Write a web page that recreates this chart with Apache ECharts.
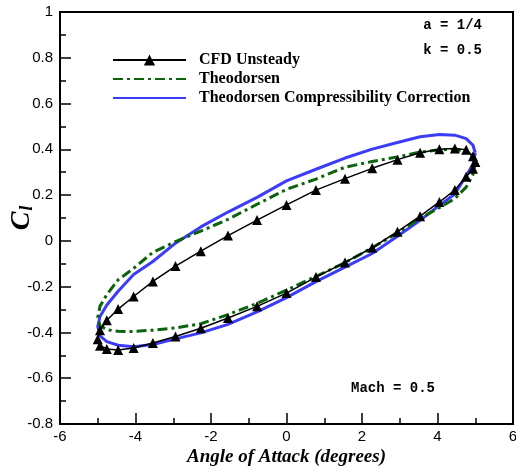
<!DOCTYPE html>
<html>
<head>
<meta charset="utf-8">
<script src="https://cdn.jsdelivr.net/npm/echarts@6/dist/echarts.min.js"></script>
<style>
  html, body { margin: 0; padding: 0; background: #fff; }
  #chart { width: 516px; height: 470px; }
</style>
</head>
<body>
<div id="chart"></div>
<script>
// Angle of attack samples (degrees) around one pitching cycle: upper branch from +5 to -5, then back.
const alphaDeg = [5.00, 4.94, 4.76, 4.46, 4.05, 3.54, 2.94, 2.27, 1.55, 0.78, 0.00,
  -0.78, -1.55, -2.27, -2.94, -3.54, -4.05, -4.46, -4.76, -4.94, -5.00,
  -4.94, -4.76, -4.46, -4.05, -3.54, -2.94, -2.27, -1.55, -0.78, 0.00,
  0.78, 1.55, 2.27, 2.94, 3.54, 4.05, 4.46, 4.76, 4.94, 5.00];

// Lift coefficient, CFD unsteady solution
const clCfd = [0.345, 0.37, 0.398, 0.404, 0.40, 0.385, 0.355, 0.317, 0.272, 0.222, 0.157,
  0.091, 0.023, -0.045, -0.11, -0.177, -0.243, -0.298, -0.347, -0.39, -0.43,
  -0.458, -0.472, -0.477, -0.468, -0.446, -0.418, -0.382, -0.337, -0.286, -0.228,
  -0.158, -0.094, -0.03, 0.04, 0.108, 0.17, 0.222, 0.28, 0.315, 0.345];

// Lift coefficient, Theodorsen (incompressible)
const clTheo = [0.34, 0.37, 0.39, 0.40, 0.398, 0.388, 0.367, 0.347, 0.322, 0.27, 0.225,
  0.16, 0.094, 0.043, -0.003, -0.05, -0.12, -0.17, -0.235, -0.285, -0.335,
  -0.37, -0.388, -0.395, -0.396, -0.39, -0.38, -0.362, -0.322, -0.273, -0.215,
  -0.155, -0.095, -0.03, 0.035, 0.098, 0.145, 0.185, 0.235, 0.29, 0.34];

// Lift coefficient, Theodorsen with compressibility correction
const clComp = [0.385, 0.418, 0.447, 0.462, 0.465, 0.455, 0.43, 0.401, 0.362, 0.313, 0.262,
  0.19, 0.126, 0.061, -0.01, -0.09, -0.147, -0.22, -0.28, -0.33, -0.375,
  -0.415, -0.44, -0.456, -0.463, -0.453, -0.428, -0.402, -0.365, -0.31, -0.248,
  -0.178, -0.115, -0.055, 0.02, 0.09, 0.155, 0.205, 0.285, 0.335, 0.385];

const seriesNames = ['CFD Unsteady', 'Theodorsen', 'Theodorsen Compressibility Correction'];
const xTicks = [-6, -4, -2, 0, 2, 4, 6];
const yTicks = [-0.8, -0.6, -0.4, -0.2, 0, 0.2, 0.4, 0.6, 0.8, 1];
const notes = ['a = 1/4', 'k = 0.5', 'Mach = 0.5'];

const pair = (xs, ys) => xs.map((x, i) => [x, ys[i]]);

const chart = echarts.init(document.getElementById('chart'), null, { renderer: 'canvas' });

const axisCommon = {
  axisLine: { show: true, onZero: false, lineStyle: { color: '#000', width: 2 } },
  axisTick: { show: true, inside: true, length: 11, lineStyle: { color: '#000', width: 1.5 } },
  minorTick: { show: true, splitNumber: 2, length: 6, lineStyle: { color: '#000', width: 1.5 } },
  splitLine: { show: false },
  minorSplitLine: { show: false },
  axisLabel: { color: '#000', fontFamily: 'Liberation Sans', fontSize: 15 }
};

chart.setOption({
  animation: false,
  backgroundColor: '#fff',
  grid: {
    left: 60, right: 3, top: 12, bottom: 46, containLabel: false, outerBoundsMode: 'none',
    show: true, borderColor: '#000', borderWidth: 2, backgroundColor: 'transparent'
  },
  xAxis: Object.assign({}, axisCommon, {
    type: 'value', min: xTicks[0], max: xTicks[xTicks.length - 1], interval: 2,
    name: 'Angle of Attack (degrees)', nameLocation: 'middle', nameGap: 24, nameMoveOverlap: false,
    nameTextStyle: { fontFamily: 'Liberation Serif', fontWeight: 'bold', fontStyle: 'italic', fontSize: 19, color: '#000' },
    axisLabel: Object.assign({}, axisCommon.axisLabel, { margin: 5, formatter: v => (xTicks.indexOf(v) >= 0 ? String(v) : '') })
  }),
  yAxis: Object.assign({}, axisCommon, {
    type: 'value', min: yTicks[0], max: yTicks[yTicks.length - 1], interval: 0.2,
    name: '{c|C}{l|l}', nameLocation: 'middle', nameRotate: 90, nameGap: 24, nameMoveOverlap: false,
    nameTextStyle: {
      rich: {
        c: { fontFamily: 'Liberation Serif', fontWeight: 'bold', fontStyle: 'italic', fontSize: 28, color: '#000' },
        l: { fontFamily: 'Liberation Serif', fontWeight: 'bold', fontStyle: 'italic', fontSize: 18, color: '#000', verticalAlign: 'bottom', padding: [6, 0, 0, 1] }
      }
    },
    axisLabel: Object.assign({}, axisCommon.axisLabel, { margin: 7, formatter: v => {
      const t = yTicks.find(k => Math.abs(k - v) < 1e-9);
      return t === undefined ? '' : String(t);
    } })
  }),
  legend: {
    orient: 'vertical', left: 107, top: 47, itemWidth: 73, itemHeight: 14, itemGap: 3,
    data: [
      { name: seriesNames[0] },
      { name: seriesNames[1], itemStyle: { opacity: 0 } },
      { name: seriesNames[2], itemStyle: { opacity: 0 } }
    ],
    textStyle: { fontFamily: 'Liberation Serif', fontWeight: 'bold', fontSize: 16, color: '#000', padding: [0, 0, 0, 8] }
  },
  graphic: [
    { type: 'text', right: 34, top: 18, style: { text: notes[0], font: 'bold 14px "Liberation Mono"', fill: '#000' } },
    { type: 'text', right: 34, top: 43, style: { text: notes[1], font: 'bold 14px "Liberation Mono"', fill: '#000' } },
    { type: 'text', left: 351, top: 381, style: { text: notes[2], font: 'bold 14px "Liberation Mono"', fill: '#000' } }
  ],
  series: [
    {
      name: seriesNames[2], type: 'line', data: pair(alphaDeg, clComp), z: 2,
      showSymbol: false, symbol: 'none',
      lineStyle: { color: '#3c3cf8', width: 3 }, itemStyle: { color: '#3c3cf8' }
    },
    {
      name: seriesNames[1], type: 'line', data: pair(alphaDeg, clTheo), z: 3,
      showSymbol: false, symbol: 'none',
      lineStyle: { color: '#0b640b', width: 3, type: [10, 4, 3, 4] }, itemStyle: { color: '#0b640b' }
    },
    {
      name: seriesNames[0], type: 'line', data: pair(alphaDeg, clCfd), z: 4,
      symbol: 'triangle', symbolSize: 10, showSymbol: true,
      lineStyle: { color: '#000', width: 1.5 }, itemStyle: { color: '#000' }
    }
  ]
});
</script>
</body>
</html>
